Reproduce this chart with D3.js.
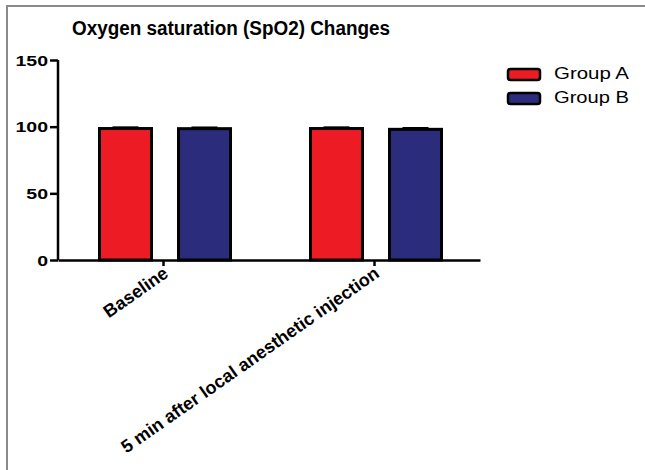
<!DOCTYPE html>
<html><head><meta charset="utf-8">
<script src="https://cdn.jsdelivr.net/npm/d3@7"></script>
<style>html,body{margin:0;padding:0;background:#fff;}svg{display:block;}</style>
</head><body>
<script>
const categories = ["Baseline", "5 min after local anesthetic injection"];
const groups = ["Group A", "Group B"];
const groupA = [98.6, 98.6];
const groupB = [98.5, 98.0];
const errA = [0.9, 0.9];
const errB = [0.9, 1.0];
const yTicks = [0, 50, 100, 150];
const colors = ["#ed1c24", "#2b2c7c"];
const title = "Oxygen saturation (SpO2) Changes";

const W = 645, H = 470;
const FONT = "Arial, 'Liberation Sans', sans-serif";
const svg = d3.select("body").append("svg").attr("width", W).attr("height", H);

// horizontal stretch helper (reference looks horizontally stretched)
function stretch(sel, k) {
  sel.each(function() {
    const w = this.getComputedTextLength();
    d3.select(this).attr("textLength", w * k).attr("lengthAdjust", "spacingAndGlyphs");
  });
}

// frame
svg.append("line").attr("x1", 7).attr("y1", 6).attr("x2", W).attr("y2", 6).attr("stroke", "#8a8a8a").attr("stroke-width", 2);
svg.append("line").attr("x1", 7).attr("y1", 5).attr("x2", 7).attr("y2", H).attr("stroke", "#8a8a8a").attr("stroke-width", 2);

const x0 = d3.scaleBand().domain(categories).range([58, 480]).padding(0);
const x1 = d3.scaleBand().domain(groups).range([40, 174]).paddingInner(0.304).paddingOuter(0);
const y = d3.scaleLinear().domain([0, 150]).range([260, 60]);

const data = categories.map((c, i) => ({cat: c, vals: [
  {g: groups[0], v: groupA[i], e: errA[i], col: colors[0]},
  {g: groups[1], v: groupB[i], e: errB[i], col: colors[1]}
]}));

const gCat = svg.selectAll("g.cat").data(data).join("g").attr("class", "cat")
  .attr("transform", d => `translate(${x0(d.cat)},0)`);

// error bars
gCat.selectAll("g.err").data(d => d.vals).join("g").attr("class", "err").each(function(d) {
  const g = d3.select(this);
  const cx = x1(d.g) + x1.bandwidth() / 2;
  g.append("line").attr("x1", cx).attr("x2", cx).attr("y1", y(d.v)).attr("y2", y(d.v + d.e)).attr("stroke", "#000").attr("stroke-width", 2);
  g.append("line").attr("x1", cx - 13).attr("x2", cx + 13).attr("y1", y(d.v + d.e)).attr("y2", y(d.v + d.e)).attr("stroke", "#000").attr("stroke-width", 2);
});

gCat.selectAll("rect").data(d => d.vals).join("rect")
  .attr("x", d => x1(d.g) + 1.5)
  .attr("width", x1.bandwidth() - 3)
  .attr("y", d => y(d.v))
  .attr("height", d => y(0) - y(d.v))
  .attr("fill", d => d.col)
  .attr("stroke", "#000")
  .attr("stroke-width", 3);

// y axis
const yAxis = svg.append("g").attr("transform", "translate(58,0)")
  .call(d3.axisLeft(y).tickValues(yTicks).tickSize(8).tickPadding(2));
yAxis.select(".domain").attr("stroke", "#000").attr("stroke-width", 2.5).attr("d", `M0,${y(150)}V${y(0)}`);
yAxis.selectAll(".tick line").attr("stroke", "#000").attr("stroke-width", 2.5);
yAxis.selectAll(".tick text").attr("font-family", FONT)
  .attr("font-weight", "bold").attr("font-size", 15).attr("fill", "#000").attr("dy", "0.35em")
  .call(stretch, 1.3);

// x axis
const xAxis = svg.append("g").attr("transform", `translate(0,${y(0)})`)
  .call(d3.axisBottom(x0).tickSize(6).tickSizeOuter(0));
xAxis.select(".domain").attr("stroke", "#000").attr("stroke-width", 2.5);
xAxis.selectAll(".tick line").attr("stroke", "#000").attr("stroke-width", 2.5);
xAxis.selectAll(".tick text")
  .attr("font-family", FONT)
  .attr("font-weight", "bold").attr("font-size", 18).attr("fill", "#000")
  .attr("text-anchor", "end")
  .attr("y", 0).attr("dy", 0)
  .attr("transform", "translate(6,16) rotate(-35)");

// title
svg.append("text").attr("x", 72).attr("y", 35)
  .attr("font-family", FONT)
  .attr("font-weight", "bold").attr("font-size", 20).attr("fill", "#000")
  .attr("textLength", 318).attr("lengthAdjust", "spacingAndGlyphs")
  .text(title);

// legend
const leg = svg.append("g").selectAll("g").data(groups).join("g")
  .attr("transform", (d, i) => `translate(508,${69 + i * 24})`);
leg.append("rect").attr("width", 32).attr("height", 11).attr("rx", 2.5)
  .attr("fill", (d, i) => colors[i]).attr("stroke", "#000").attr("stroke-width", 2.5);
leg.append("text").attr("x", 46).attr("y", 10)
  .attr("font-family", FONT)
  .attr("font-size", 17).attr("fill", "#000")
  .attr("textLength", 75).attr("lengthAdjust", "spacingAndGlyphs")
  .text(d => d);
</script>
</body></html>
